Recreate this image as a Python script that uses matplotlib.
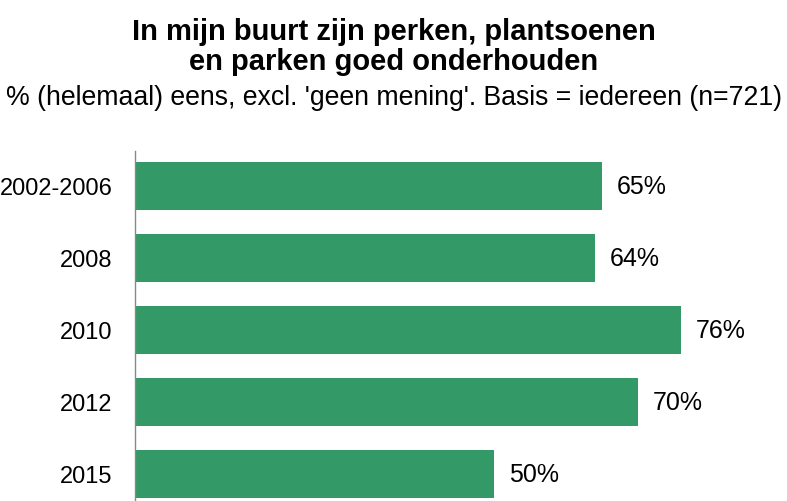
import matplotlib.pyplot as plt

plt.rcParams['font.family'] = ['Liberation Sans', 'DejaVu Sans']

jaren = ["2002-2006", "2008", "2010", "2012", "2015"]
eens = [65, 64, 76, 70, 50]

fig = plt.figure(figsize=(7.87, 5.02), dpi=100)
ax = fig.add_axes([135/787, 0, 1 - 135/787, (502-152)/502])

pos = list(range(len(jaren)))
ax.barh(pos, eens, height=0.667, color='#339966')
for p, v in zip(pos, eens):
	ax.text(v + 2.1, p, f"{v}%", va='center', ha='left', fontsize=18)

ax.set_xlim(0, 90.8)
ax.set_ylim(4.375, -0.486)
ax.set_yticks(pos)
ax.set_yticklabels(jaren, fontsize=17)
ax.tick_params(axis='y', length=0, pad=16)
ax.set_xticks([])
for k in ['top', 'right', 'bottom']:
	ax.spines[k].set_visible(False)
ax.spines['left'].set_color('#888888')
ax.spines['left'].set_linewidth(1)

fig.text(0.5, 1 - 47/502, "In mijn buurt zijn perken, plantsoenen\nen parken goed onderhouden",
	ha='center', va='center', fontsize=21, fontweight='bold', linespacing=1.08)
fig.text(0.5, 1 - 98/502, "% (helemaal) eens, excl. 'geen mening'. Basis = iedereen (n=721)",
	ha='center', va='center', fontsize=19.2)

fig.savefig("out.png", dpi=100)
